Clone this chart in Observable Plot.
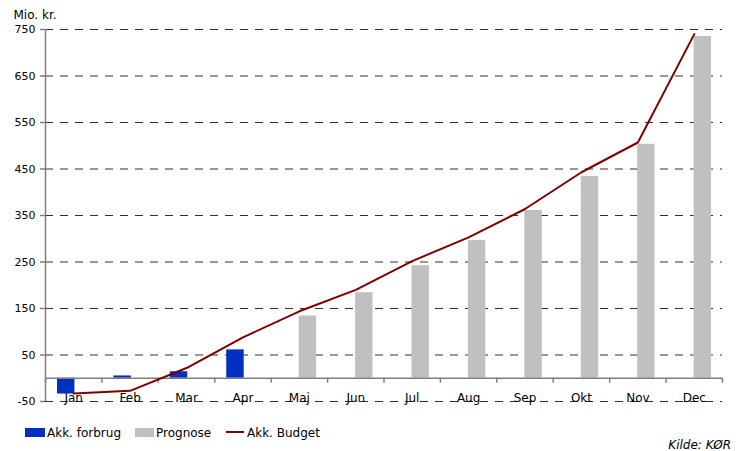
<!DOCTYPE html>
<html>
<head>
<meta charset="utf-8">
<script src="https://cdn.jsdelivr.net/npm/d3@7"></script>
<script src="https://cdn.jsdelivr.net/npm/@observablehq/plot@0.6"></script>
<style>
  body { margin: 0; background: #fff; font-family: "DejaVu Sans", Verdana, sans-serif; }
  #wrap { position: relative; width: 739px; height: 451px; overflow: hidden; }
  #wrap svg { display: block; }
</style>
</head>
<body>
<div id="wrap"></div>
<script>
const months = ["Jan","Feb","Mar","Apr","Maj","Jun","Jul","Aug","Sep","Okt","Nov","Dec"];
const forbrugMonths = ["Jan","Feb","Mar","Apr"];
const forbrug = [-34, 5, 14, 61];
const prognoseMonths = ["Maj","Jun","Jul","Aug","Sep","Okt","Nov","Dec"];
const prognose = [134, 184, 242, 296, 361, 434, 503, 735];
const budget = [-33, -27, 22, 88, 144, 190, 252, 303, 364, 443, 507, 740];
const yTicks = [-50, 50, 150, 250, 350, 450, 550, 650, 750];
const yLabel = "Mio. kr.";
const legendLabels = ["Akk. forbrug", "Prognose", "Akk. Budget"];
const source = "Kilde: KØR";

const BLUE = "#0030c0", GRAY = "#c0c0c0", RED = "#800000", AXIS = "#808080";
const idx = m => months.indexOf(m);

const forbrugData = forbrugMonths.map((m, i) => ({i: idx(m), v: forbrug[i]}));
const prognoseData = prognoseMonths.map((m, i) => ({i: idx(m), v: prognose[i]}));
const budgetData = months.map((m, i) => ({i, v: budget[i]}));
const bounds = d3.range(months.length + 1);

const chart = Plot.plot({
  width: 739,
  height: 415,
  marginLeft: 45,
  marginRight: 17,
  marginTop: 29,
  marginBottom: 14,
  style: {fontFamily: "'DejaVu Sans', Verdana, sans-serif", fontSize: "11px", color: "#000", background: "#fff"},
  x: {type: "linear", domain: [0, months.length], axis: null},
  y: {domain: [-50, 750], axis: null},
  marks: [
    Plot.ruleY(yTicks, {y: d => d, x1: 0, x2: months.length, stroke: "#303030", strokeWidth: 1, strokeDasharray: "8,7"}),
    Plot.rectY(forbrugData, {x1: d => d.i, x2: d => d.i + 1, y1: 0, y2: d => d.v, fill: BLUE, insetLeft: 12, insetRight: 27}),
    Plot.rectY(prognoseData, {x1: d => d.i, x2: d => d.i + 1, y1: 0, y2: d => d.v, fill: GRAY, insetLeft: 28, insetRight: 11}),
    Plot.ruleY([0], {y: d => d, x1: 0, x2: months.length, stroke: AXIS, strokeWidth: 1.5}),
    Plot.ruleX(bounds, {x: d => d, y1: 0, y2: 0, insetBottom: -5, stroke: AXIS, strokeWidth: 1.5}),
    Plot.ruleX([0], {x: d => d, y1: -50, y2: 750, stroke: AXIS, strokeWidth: 1.5}),
    Plot.axisY(yTicks, {tickSize: 5, tickPadding: 5, stroke: AXIS, strokeWidth: 1.5, fontSize: 11, fill: "#000", tickFormat: d => String(d)}),
    Plot.text(months, {x: (d, i) => i + 0.5, y: -50, text: d => d, lineAnchor: "bottom", fontSize: 12, fill: "#000"}),
    Plot.line(budgetData, {x: d => d.i + 0.5, y: d => d.v, stroke: RED, strokeWidth: 2}),
    Plot.text([yLabel], {frameAnchor: "top-left", dx: -32, dy: -11, textAnchor: "start", lineAnchor: "bottom", fontSize: 12, fill: "#000"})
  ]
});
document.getElementById("wrap").appendChild(chart);

// Legend and source below the chart
const ns = "http://www.w3.org/2000/svg";
const leg = d3.select("#wrap").append("svg")
  .attr("xmlns", ns).attr("width", 739).attr("height", 36)
  .style("font-family", "'DejaVu Sans', Verdana, sans-serif");
const oy = 415;
leg.append("rect").attr("x", 25).attr("y", 428 - oy).attr("width", 20).attr("height", 9).attr("fill", BLUE);
leg.append("text").attr("x", 47).attr("y", 437 - oy).attr("font-size", 12).text(legendLabels[0]);
leg.append("rect").attr("x", 135).attr("y", 428 - oy).attr("width", 19).attr("height", 9).attr("fill", GRAY);
leg.append("text").attr("x", 156).attr("y", 437 - oy).attr("font-size", 12).text(legendLabels[1]);
leg.append("line").attr("x1", 226).attr("x2", 244).attr("y1", 432 - oy).attr("y2", 432 - oy).attr("stroke", RED).attr("stroke-width", 2);
leg.append("text").attr("x", 247).attr("y", 437 - oy).attr("font-size", 12).text(legendLabels[2]);
leg.append("text").attr("x", 731).attr("y", 449 - oy).attr("font-size", 12).attr("font-style", "italic").attr("text-anchor", "end").text(source);
</script>
</body>
</html>
